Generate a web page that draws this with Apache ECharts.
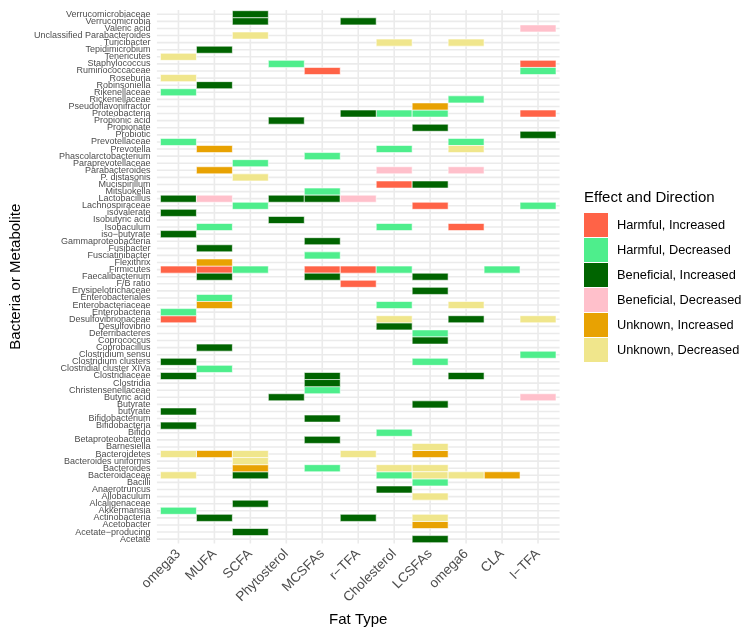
<!DOCTYPE html>
<html>
<head>
<meta charset="utf-8">
<title>Effect and Direction</title>
<script src="https://cdn.jsdelivr.net/npm/echarts@6/dist/echarts.min.js"></script>
<style>
  html, body { margin: 0; padding: 0; background: #fff; }
  #chart { width: 749px; height: 635px; }
</style>
</head>
<body>
<div id="chart"></div>
<script>
// x categories (fat types)
const fatTypes = ['omega3', 'MUFA', 'SCFA', 'Phytosterol', 'MCSFAs', 'r-TFA', 'Cholesterol', 'LCSFAs', 'omega6', 'CLA', 'I-TFA']

// y categories, bottom -> top
const taxa = [
  'Acetate', 'Acetate-producing', 'Acetobacter', 'Actinobacteria', 'Akkermansia', 'Alcaligenaceae',
  'Allobaculum', 'Anaerotruncus', 'Bacilli', 'Bacteroidaceae', 'Bacteroides', 'Bacteroides uniformis',
  'Bacteroidetes', 'Barnesiella', 'Betaproteobacteria', 'Bifido', 'Bifidobacteria', 'Bifidobacterium',
  'butyrate', 'Butyrate', 'Butyric acid', 'Christensenellaceae', 'Clostridia', 'Clostridiaceae',
  'Clostridial cluster XIVa', 'Clostridium clusters', 'Clostridium sensu', 'Coprobacillus', 'Coprococcus',
  'Deferribacteres', 'Desulfovibrio', 'Desulfovibrionaceae', 'Enterobacteria', 'Enterobacteriaceae',
  'Enterobacteriales', 'Erysipelotrichaceae', 'F/B ratio', 'Faecalibacterium', 'Firmicutes', 'Flexithrix',
  'Fusciatinibacter', 'Fusibacter', 'Gammaproteobacteria', 'iso-butyrate', 'Isobaculum', 'Isobutyric acid',
  'isovalerate', 'Lachnospiraceae', 'Lactobacillus', 'Mitsuokella', 'Mucispirillum', 'P. distasonis',
  'Parabacteroides', 'Paraprevotellaceae', 'Phascolarctobacterium', 'Prevotella', 'Prevotellaceae',
  'Probiotic', 'Propionate', 'Propionic acid', 'Proteobacteria', 'Pseudoflavonifractor', 'Rickenellaceae',
  'Rikenellaceae', 'Robinsoniella', 'Roseburia', 'Ruminococcaceae', 'Staphylococcus', 'Tenericutes',
  'Tepidimicrobium', 'Turicibacter', 'Unclassified Parabacteroides', 'Valeric acid', 'Verrucomicrobia',
  'Verrucomicrobiaceae'
]

// one list per effect: [fat type, taxon]
const harmfulIncreased = [
  ['I-TFA', 'Staphylococcus'], ['MCSFAs', 'Ruminococcaceae'], ['I-TFA', 'Proteobacteria'],
  ['Cholesterol', 'Mucispirillum'], ['LCSFAs', 'Lachnospiraceae'], ['omega6', 'Isobaculum'],
  ['omega3', 'Firmicutes'], ['MUFA', 'Firmicutes'], ['MCSFAs', 'Firmicutes'], ['r-TFA', 'Firmicutes'],
  ['r-TFA', 'F/B ratio'], ['omega3', 'Desulfovibrionaceae']
]
const harmfulDecreased = [
  ['Phytosterol', 'Staphylococcus'], ['I-TFA', 'Ruminococcaceae'], ['omega3', 'Rikenellaceae'],
  ['omega6', 'Rickenellaceae'], ['Cholesterol', 'Proteobacteria'], ['LCSFAs', 'Proteobacteria'],
  ['omega3', 'Prevotellaceae'], ['omega6', 'Prevotellaceae'], ['Cholesterol', 'Prevotella'],
  ['MCSFAs', 'Phascolarctobacterium'], ['SCFA', 'Paraprevotellaceae'], ['MCSFAs', 'Mitsuokella'],
  ['SCFA', 'Lachnospiraceae'], ['I-TFA', 'Lachnospiraceae'], ['MUFA', 'Isobaculum'],
  ['Cholesterol', 'Isobaculum'], ['MCSFAs', 'Fusciatinibacter'], ['SCFA', 'Firmicutes'],
  ['Cholesterol', 'Firmicutes'], ['CLA', 'Firmicutes'], ['MUFA', 'Enterobacteriales'],
  ['Cholesterol', 'Enterobacteriaceae'], ['omega3', 'Enterobacteria'], ['LCSFAs', 'Deferribacteres'],
  ['I-TFA', 'Clostridium sensu'], ['LCSFAs', 'Clostridium clusters'], ['MUFA', 'Clostridial cluster XIVa'],
  ['MCSFAs', 'Christensenellaceae'], ['Cholesterol', 'Bifido'], ['MCSFAs', 'Bacteroides'],
  ['Cholesterol', 'Bacteroidaceae'], ['LCSFAs', 'Bacilli'], ['omega3', 'Akkermansia']
]
const beneficialIncreased = [
  ['SCFA', 'Verrucomicrobiaceae'], ['SCFA', 'Verrucomicrobia'], ['r-TFA', 'Verrucomicrobia'],
  ['MUFA', 'Tepidimicrobium'], ['MUFA', 'Robinsoniella'], ['r-TFA', 'Proteobacteria'],
  ['Phytosterol', 'Propionic acid'], ['LCSFAs', 'Propionate'], ['I-TFA', 'Probiotic'],
  ['LCSFAs', 'Mucispirillum'], ['omega3', 'Lactobacillus'], ['Phytosterol', 'Lactobacillus'],
  ['MCSFAs', 'Lactobacillus'], ['omega3', 'isovalerate'], ['Phytosterol', 'Isobutyric acid'],
  ['omega3', 'iso-butyrate'], ['MCSFAs', 'Gammaproteobacteria'], ['MUFA', 'Fusibacter'],
  ['MUFA', 'Faecalibacterium'], ['MCSFAs', 'Faecalibacterium'], ['LCSFAs', 'Faecalibacterium'],
  ['LCSFAs', 'Erysipelotrichaceae'], ['omega6', 'Desulfovibrionaceae'], ['Cholesterol', 'Desulfovibrio'],
  ['LCSFAs', 'Coprococcus'], ['MUFA', 'Coprobacillus'], ['omega3', 'Clostridium clusters'],
  ['omega3', 'Clostridiaceae'], ['MCSFAs', 'Clostridiaceae'], ['omega6', 'Clostridiaceae'],
  ['MCSFAs', 'Clostridia'], ['Phytosterol', 'Butyric acid'], ['LCSFAs', 'Butyrate'],
  ['omega3', 'butyrate'], ['MCSFAs', 'Bifidobacterium'], ['omega3', 'Bifidobacteria'],
  ['MCSFAs', 'Betaproteobacteria'], ['SCFA', 'Bacteroidaceae'], ['Cholesterol', 'Anaerotruncus'],
  ['SCFA', 'Alcaligenaceae'], ['MUFA', 'Actinobacteria'], ['r-TFA', 'Actinobacteria'],
  ['SCFA', 'Acetate-producing'], ['LCSFAs', 'Acetate']
]
const beneficialDecreased = [
  ['I-TFA', 'Valeric acid'], ['Cholesterol', 'Parabacteroides'], ['omega6', 'Parabacteroides'],
  ['MUFA', 'Lactobacillus'], ['r-TFA', 'Lactobacillus'], ['I-TFA', 'Butyric acid']
]
const unknownIncreased = [
  ['LCSFAs', 'Pseudoflavonifractor'], ['MUFA', 'Prevotella'], ['MUFA', 'Parabacteroides'],
  ['MUFA', 'Flexithrix'], ['MUFA', 'Enterobacteriaceae'], ['MUFA', 'Bacteroidetes'],
  ['LCSFAs', 'Bacteroidetes'], ['SCFA', 'Bacteroides'], ['CLA', 'Bacteroidaceae'],
  ['LCSFAs', 'Acetobacter']
]
const unknownDecreased = [
  ['SCFA', 'Unclassified Parabacteroides'], ['Cholesterol', 'Turicibacter'], ['omega6', 'Turicibacter'],
  ['omega3', 'Tenericutes'], ['omega3', 'Roseburia'], ['omega6', 'Prevotella'],
  ['SCFA', 'P. distasonis'], ['omega6', 'Enterobacteriaceae'], ['Cholesterol', 'Desulfovibrionaceae'],
  ['I-TFA', 'Desulfovibrionaceae'], ['LCSFAs', 'Barnesiella'], ['omega3', 'Bacteroidetes'],
  ['SCFA', 'Bacteroidetes'], ['r-TFA', 'Bacteroidetes'], ['SCFA', 'Bacteroides uniformis'],
  ['Cholesterol', 'Bacteroides'], ['LCSFAs', 'Bacteroides'], ['omega3', 'Bacteroidaceae'],
  ['LCSFAs', 'Bacteroidaceae'], ['omega6', 'Bacteroidaceae'], ['LCSFAs', 'Allobaculum'],
  ['LCSFAs', 'Actinobacteria']
]

const effects = [
  { name: 'Harmful, Increased', color: '#FF6347', list: harmfulIncreased },
  { name: 'Harmful, Decreased', color: '#4EEE8C', list: harmfulDecreased },
  { name: 'Beneficial, Increased', color: '#006400', list: beneficialIncreased },
  { name: 'Beneficial, Decreased', color: '#FFC0CB', list: beneficialDecreased },
  { name: 'Unknown, Increased', color: '#E8A202', list: unknownIncreased },
  { name: 'Unknown, Decreased', color: '#F0E68C', list: unknownDecreased }
]

const FONT = '"Liberation Sans", Arial, sans-serif'
const minus = s => s.replace(/-/g, '\u2212')

// tile: one category band each way
function renderTile (params, api) {
  let p = api.coord([api.value(0), api.value(1)])
  let s = api.size([1, 1])
  return {
    type: 'rect',
    shape: { x: p[0] - s[0] / 2, y: p[1] - s[1] / 2, width: s[0], height: s[1] },
    style: { fill: api.visual('color'), stroke: '#fff', lineWidth: 0.6 }
  }
}

// ggplot style grid lines at category centres, running 0.1 band past the tiles
function renderVLine (params, api) {
  let cs = params.coordSys
  let x = api.coord([api.value(0), 0])[0]
  let ext = api.size([1, 1])[1] * 0.1
  return {
    type: 'line',
    shape: { x1: x, y1: cs.y - ext, x2: x, y2: cs.y + cs.height + ext },
    style: { stroke: '#EBEBEB', lineWidth: 1.6 }
  }
}
function renderHLine (params, api) {
  let cs = params.coordSys
  let y = api.coord([0, api.value(0)])[1]
  let ext = api.size([1, 1])[0] * 0.1
  return {
    type: 'line',
    shape: { x1: cs.x - ext, y1: y, x2: cs.x + cs.width + ext, y2: y },
    style: { stroke: '#EBEBEB', lineWidth: 1.6 }
  }
}

let tileSeries = effects.map(e => ({
  name: e.name,
  type: 'custom',
  renderItem: renderTile,
  itemStyle: { color: e.color },
  encode: { x: 0, y: 1 },
  z: 3,
  data: e.list.map(([f, t]) => [fatTypes.indexOf(f), taxa.indexOf(t)])
}))

let chart = echarts.init(document.getElementById('chart'), null, { renderer: 'canvas' })
chart.setOption({
  animation: false,
  textStyle: { fontFamily: FONT },
  title: {
    text: 'Effect and Direction',
    left: 584,
    top: 190,
    padding: 0,
    textStyle: { fontFamily: FONT, fontSize: 15, fontWeight: 'normal', color: '#000' }
  },
  legend: {
    orient: 'vertical',
    left: 584,
    top: 213,
    padding: 0,
    itemWidth: 24,
    itemHeight: 24,
    itemGap: 1,
    icon: 'rect',
    data: effects.map(e => e.name),
    textStyle: { fontFamily: FONT, fontSize: 12.8, color: '#000', padding: [0, 0, 0, 4] }
  },
  grid: { left: 156, right: 193, top: 10.7, bottom: 92.3 },
  xAxis: {
    type: 'category',
    data: fatTypes,
    axisLine: { show: false },
    axisTick: { show: false },
    splitLine: { show: false },
    axisLabel: {
      interval: 0,
      rotate: 45,
      margin: 9,
      fontSize: 13.5,
      color: '#4D4D4D',
      fontFamily: FONT,
      formatter: minus
    },
    name: 'Fat Type',
    nameLocation: 'middle',
    nameGap: 67,
    nameTextStyle: { fontSize: 15, color: '#000', fontFamily: FONT }
  },
  yAxis: {
    type: 'category',
    data: taxa,
    axisLine: { show: false },
    axisTick: { show: false },
    splitLine: { show: false },
    axisLabel: {
      interval: 0,
      margin: 10,
      fontSize: 9,
      color: '#4D4D4D',
      fontFamily: FONT,
      formatter: minus
    },
    name: 'Bacteria or Metabolite',
    nameLocation: 'middle',
    nameGap: 133,
    nameTextStyle: { fontSize: 15, color: '#000', fontFamily: FONT }
  },
  series: [
    {
      type: 'custom',
      renderItem: renderVLine,
      silent: true,
      z: 1,
      data: fatTypes.map((f, i) => [i])
    },
    {
      type: 'custom',
      renderItem: renderHLine,
      silent: true,
      z: 1,
      data: taxa.map((t, i) => [i])
    }
  ].concat(tileSeries)
})
</script>
</body>
</html>
